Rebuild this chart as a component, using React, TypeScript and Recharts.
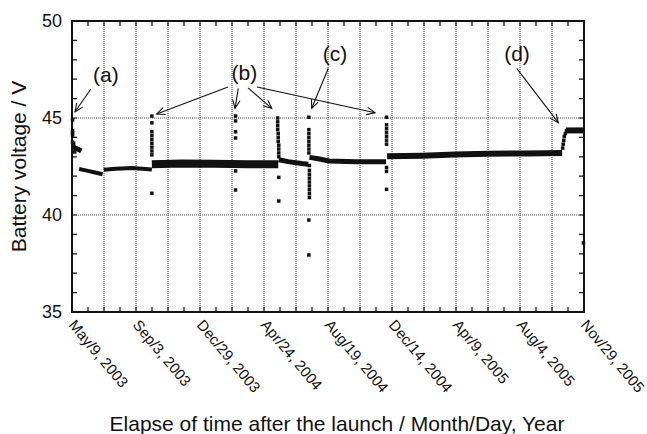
import {
  ComposedChart,
  Line,
  Scatter,
  XAxis,
  YAxis,
  ReferenceLine,
  ReferenceDot,
  Label,
} from "recharts";

const FONT = '"Liberation Sans", Arial, Helvetica, sans-serif';
const INK = "#111";

// chart box and plot area
const W = 647;
const H = 434;
const PLOT = { left: 72, right: 584, top: 21, bottom: 312 };

// x = days after launch (May 9, 2003)
const X_MIN = 0;
const X_MAX = 936;
const Y_MIN = 35;
const Y_MAX = 50;
const dateTicks = [0, 117, 234, 351, 468, 585, 702, 819, 936];
const dateLabels = [
  "May/9, 2003",
  "Sep/3, 2003",
  "Dec/29, 2003",
  "Apr/24, 2004",
  "Aug/19, 2004",
  "Dec/14, 2004",
  "Apr/9, 2005",
  "Aug/4, 2005",
  "Nov/29, 2005",
];
const gridDays = [58.5, 117, 175.5, 234, 292.5, 351, 409.5, 468, 526.5, 585, 643.5, 702, 760.5, 819, 877.5];
const xTicks = Array.from({ length: 33 }, (_, i) => i * 29.25);
const yTicks = [35, 36, 37, 38, 39, 40, 41, 42, 43, 44, 45, 46, 47, 48, 49, 50];
const yGrid = [40, 45];

// main voltage level, one array per plateau: [day, volts]
const levelA = [[1, 43.55], [6, 43.45], [12, 43.38], [17, 43.3]];
const levelB = [[13, 42.37], [25, 42.3], [40, 42.2], [56, 42.1]];
const levelC = [[58, 42.33], [80, 42.38], [110, 42.42], [146, 42.35]];
const levelD = [[146, 42.62], [200, 42.66], [260, 42.64], [320, 42.62], [377, 42.62]];
const levelE = [[378, 42.85], [395, 42.75], [420, 42.65], [432, 42.62]];
const levelF = [[434, 42.97], [450, 42.9], [470, 42.78], [520, 42.74], [574, 42.75]];
const levelG = [[576, 43.03], [640, 43.06], [700, 43.12], [760, 43.16], [830, 43.17], [896, 43.2]];
const levelH = [[903, 44.36], [936, 44.36]];

// scattered readings around the events
const dotsStart = [[1, 44.9], [1, 44.35], [1, 44.23], [1, 44.12], [1, 43.75], [3, 43.7], [5, 43.25]];
const spike1 = [[146, 45.1], [146, 44.75], [146, 44.3], [146, 44.1], [146, 43.9], [146, 43.7], [146, 43.5], [146, 43.3], [146, 43.1], [146, 41.12]];
const spike2 = [[299, 45.1], [299, 44.85], [299, 44.29], [299, 43.97], [299, 42.27], [299, 41.29]];
const spike3 = [[376, 45.0], [376, 44.8], [376, 44.6], [376, 44.4], [377, 44.2], [377, 44.0], [377, 43.8], [378, 43.6], [378, 43.4], [378, 43.2], [378, 43.0], [378, 41.94], [378, 40.72]];
const spike4 = [[433, 45.04], [433, 44.4], [433, 44.2], [433, 44.0], [433, 43.8], [433, 43.6], [433, 43.4], [433, 43.2], [434, 42.55], [434, 42.3], [434, 42.1], [434, 41.9], [434, 41.7], [434, 41.5], [434, 41.3], [434, 41.1], [434, 40.9], [433, 39.74], [433, 37.94]];
const spike5 = [[575, 45.04], [575, 44.65], [575, 44.45], [575, 44.25], [575, 44.05], [575, 43.85], [575, 43.65], [575, 42.45], [575, 42.25], [575, 41.32]];
const dotsStep = [[897, 43.45], [898, 43.65], [899, 43.85], [900, 44.05], [902, 44.2], [904, 44.35], [935, 38.56]];

// annotations: label position and arrows (tail -> head), data coords
const notes = [
  { text: "(a)", day: 61.8, v: 46.86 },
  { text: "(b)", day: 315, v: 46.98 },
  { text: "(c)", day: 480.8, v: 47.94 },
  { text: "(d)", day: 813.5, v: 47.94 },
];
const arrows = [
  [34.2, 46.48, 5.5, 45.32],
  [285.2, 46.6, 154.8, 45.21],
  [304, 46.53, 298, 45.5],
  [321.8, 46.55, 365.1, 45.5],
  [338.2, 46.6, 553.9, 45.27],
  [468.6, 47.56, 438.2, 45.5],
  [813, 47.56, 889, 44.76],
];

const toPts = (arr: number[][]) => arr.map(([day, v]) => ({ day, v }));

const levels = [
  { d: levelA, w: 5 },
  { d: levelB, w: 4 },
  { d: levelC, w: 4 },
  { d: levelD, w: 8 },
  { d: levelE, w: 5 },
  { d: levelF, w: 5 },
  { d: levelG, w: 6 },
  { d: levelH, w: 6 },
];
const dotSets = [dotsStart, spike1, spike2, spike3, spike4, spike5, dotsStep];

// plot frame and inward ticks (~5px in axis units), drawn as plain polylines
const TICK_DX = 9.2;
const TICK_DY = 0.26;
const frameBox = [
  [X_MIN, Y_MIN],
  [X_MIN, Y_MAX],
  [X_MAX, Y_MAX],
  [X_MAX, Y_MIN],
  [X_MIN, Y_MIN],
];
const tickRuns = [
  xTicks.flatMap((d) => [[d, Y_MIN], [d, Y_MIN + TICK_DY], [d, Y_MIN]]),
  xTicks.flatMap((d) => [[d, Y_MAX], [d, Y_MAX - TICK_DY], [d, Y_MAX]]),
  yTicks.flatMap((v) => [[X_MIN, v], [X_MIN + TICK_DX, v], [X_MIN, v]]),
  yTicks.flatMap((v) => [[X_MAX, v], [X_MAX - TICK_DX, v], [X_MAX, v]]),
];

function Square(p: any) {
  return <rect x={p.cx - 1.75} y={p.cy - 1.75} width={3.5} height={3.5} fill={INK} />;
}

function DateTick({ x, y, payload }: any) {
  const i = dateTicks.indexOf(payload.value);
  if (i < 0) return <g />;
  return (
    <text
      x={x}
      y={y}
      dy="0.35em"
      transform={`rotate(50 ${x} ${y})`}
      textAnchor="start"
      fontSize={15}
      fontFamily={FONT}
      fill={INK}
    >
      {dateLabels[i]}
    </text>
  );
}

function Arrow({ x1, y1, x2, y2 }: any) {
  const a = Math.atan2(y2 - y1, x2 - x1);
  const len = 9;
  const spread = 0.42;
  const p1 = [x2 - len * Math.cos(a - spread), y2 - len * Math.sin(a - spread)];
  const p2 = [x2 - len * Math.cos(a + spread), y2 - len * Math.sin(a + spread)];
  return (
    <g stroke={INK} strokeWidth={1.1} fill="none">
      <line x1={x1} y1={y1} x2={x2} y2={y2} />
      <polyline points={`${p1[0]},${p1[1]} ${x2},${y2} ${p2[0]},${p2[1]}`} />
    </g>
  );
}

export default function App() {
  return (
    <div style={{ position: "absolute", left: 0, top: 0, width: W, height: H, background: "#fff" }}>
      <ComposedChart
        width={W}
        height={H}
        margin={{ top: PLOT.top, right: W - PLOT.right, bottom: 0, left: 0 }}
      >
        <XAxis
          dataKey="day"
          type="number"
          domain={[X_MIN, X_MAX]}
          ticks={xTicks}
          interval={0}
          height={H - PLOT.bottom}
          tickSize={0}
          tickMargin={10}
          axisLine={false}
          tickLine={false}
          tick={<DateTick />}
        >
          <Label
            content={() => (
              <text
                x={337}
                y={431}
                textAnchor="middle"
                fontSize={21}
                fontFamily={FONT}
                fill={INK}
              >
                Elapse of time after the launch / Month/Day, Year
              </text>
            )}
          />
        </XAxis>
        <YAxis
          dataKey="v"
          type="number"
          domain={[Y_MIN, Y_MAX]}
          ticks={yTicks}
          interval={0}
          width={PLOT.left}
          tickSize={0}
          tickMargin={10}
          axisLine={false}
          tickLine={false}
          tickFormatter={(v: number) => (v % 5 === 0 ? String(v) : "")}
          tick={{ fontSize: 18, fontFamily: FONT, fill: INK }}
          label={{
            value: "Battery voltage / V",
            angle: -90,
            position: "insideLeft",
            offset: 19,
            style: { textAnchor: "middle", fontSize: 21, fontFamily: FONT, fill: INK },
          }}
        />

        {gridDays.map((d) => (
          <ReferenceLine
            key={`gx${d}`}
            x={d}
            stroke="#444"
            strokeWidth={1}
            strokeDasharray="1 1"
          />
        ))}
        {yGrid.map((v) => (
          <ReferenceLine
            key={`gy${v}`}
            y={v}
            stroke="#444"
            strokeWidth={1}
            strokeDasharray="1 1"
          />
        ))}

        {levels.map((s, i) => (
          <Line
            key={`lv${i}`}
            data={toPts(s.d)}
            dataKey="v"
            type="linear"
            stroke={INK}
            strokeWidth={s.w}
            dot={false}
            activeDot={false}
            isAnimationActive={false}
          />
        ))}
        {dotSets.map((s, i) => (
          <Scatter
            key={`sc${i}`}
            data={toPts(s)}
            shape={Square}
            isAnimationActive={false}
          />
        ))}

        {tickRuns.map((run, i) => (
          <Line
            key={`tk${i}`}
            data={toPts(run)}
            dataKey="v"
            type="linear"
            stroke={INK}
            strokeWidth={1.2}
            dot={false}
            activeDot={false}
            isAnimationActive={false}
          />
        ))}
        <Line
          data={toPts(frameBox)}
          dataKey="v"
          type="linear"
          stroke={INK}
          strokeWidth={2}
          strokeLinecap="square"
          dot={false}
          activeDot={false}
          isAnimationActive={false}
        />

        {arrows.map(([xa, ya, xb, yb], i) => (
          <ReferenceLine
            key={`ar${i}`}
            segment={[
              { x: xa, y: ya },
              { x: xb, y: yb },
            ]}
            shape={(p: any) => <Arrow {...p} />}
          />
        ))}
        {notes.map((n) => (
          <ReferenceDot
            key={n.text}
            x={n.day}
            y={n.v}
            r={0}
            shape={(p: any) => (
              <text
                x={p.cx}
                y={p.cy}
                textAnchor="middle"
                fontSize={21}
                fontFamily={FONT}
                fill={INK}
              >
                {n.text}
              </text>
            )}
          />
        ))}
      </ComposedChart>
    </div>
  );
}
